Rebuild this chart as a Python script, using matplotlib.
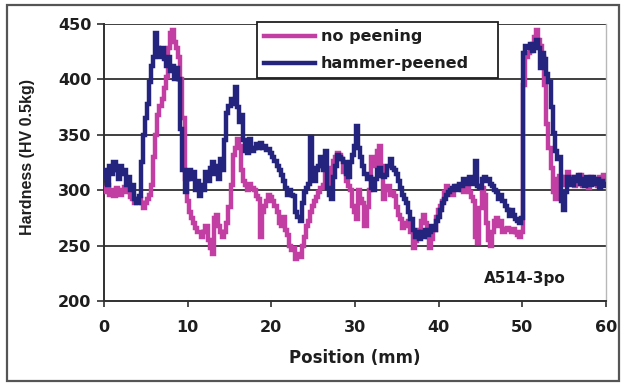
import matplotlib
matplotlib.use("Agg")
import matplotlib.pyplot as plt
from matplotlib.patches import Rectangle

# Measurement positions along the traverse (mm), sampled every 0.25 mm
position_mm = [i * 0.25 for i in range(241)]

# Hardness profile without peening (HV 0.5kg)
hv_no_peening = [
    302, 298, 305, 296,  300, 295, 302, 298,  296, 300, 303, 298,  300, 294, 292, 288,
    290, 292, 288, 284,  288, 292, 296, 305,  330, 350, 368, 376,  382, 392, 402, 428,
    442, 445, 434, 428,  420, 400, 365, 310,  290, 280, 275, 270,  266, 262, 262, 258,
    262, 268, 255, 248,  242, 275, 278, 268,  262, 258, 262, 270,  285, 305, 332, 338,
    346, 340, 318, 308,  305, 300, 306, 302,  300, 295, 292, 258,  280, 286, 290, 296,
    294, 290, 286, 280,  270, 268, 276, 264,  260, 250, 246, 248,  238, 242, 240, 250,
    258, 268, 272, 280,  286, 290, 294, 298,  302, 305, 318, 305,  308, 320, 326, 330,
    334, 332, 328, 316,  308, 304, 300, 286,  280, 274, 300, 292,  288, 268, 285, 300,
    330, 326, 322, 335,  340, 322, 292, 300,  304, 296, 298, 295,  285, 278, 274, 266,
    268, 270, 272, 262,  248, 254, 258, 264,  272, 278, 270, 258,  248, 256, 264, 276,
    282, 286, 290, 298,  304, 300, 298, 296,  302, 304, 302, 300,  298, 302, 304, 298,
    294, 290, 258, 252,  284, 302, 296, 270,  255, 250, 262, 272,  275, 268, 272, 262,
    265, 266, 264, 262,  265, 262, 260, 258,  262, 395, 420, 424,  426, 432, 438, 445,
    436, 430, 420, 395,  360, 338, 320, 298,  292, 310, 313, 305,  312, 308, 316, 306,
    312, 304, 310, 306,  314, 304, 310, 308,  302, 312, 306, 310,  304, 312, 306, 314,
    308,
]

# Hardness profile after hammer peening (HV 0.5kg)
hv_hammer_peened = [
    312, 318, 305, 322,  315, 325, 318, 310,  322, 315, 318, 305,  312, 300, 305, 292,
    288, 295, 325, 350,  365, 378, 398, 412,  420, 442, 428, 420,  428, 418, 412, 420,
    408, 412, 400, 410,  400, 355, 318, 298,  310, 318, 310, 316,  300, 308, 295, 305,
    300, 316, 308, 320,  325, 315, 322, 310,  328, 318, 345, 370,  376, 382, 378, 393,
    375, 362, 368, 345,  335, 334, 346, 335,  338, 342, 338, 343,  338, 340, 336, 337,
    334, 330, 326, 322,  318, 314, 308, 302,  296, 300, 296, 295,  280, 276, 272, 288,
    298, 302, 306, 348,  320, 308, 318, 322,  330, 318, 335, 302,  296, 292, 312, 322,
    332, 330, 328, 325,  315, 312, 325, 332,  340, 358, 338, 330,  322, 315, 310, 312,
    302, 300, 310, 318,  320, 313, 312, 314,  322, 328, 320, 318,  315, 308, 302, 296,
    292, 288, 280, 274,  264, 258, 262, 256,  262, 258, 264, 260,  262, 268, 264, 272,
    276, 282, 288, 292,  296, 298, 300, 302,  304, 300, 306, 304,  310, 306, 308, 312,
    306, 308, 326, 304,  302, 310, 312, 308,  310, 306, 304, 300,  298, 292, 296, 290,
    286, 282, 277, 282,  278, 274, 272, 270,  275, 424, 430, 428,  432, 426, 430, 436,
    428, 410, 424, 418,  405, 398, 375, 352,  335, 328, 330, 290,  282, 298, 312, 310,
    305, 312, 308, 314,  306, 310, 304, 312,  308, 305, 312, 306,  310, 302, 308, 304,
    306,
]

x_ticks = [0, 10, 20, 30, 40, 50, 60]
y_ticks = [200, 250, 300, 350, 400, 450]

PINK = "#c23ea2"
NAVY = "#24247e"
TEXT = "#1e1e1e"
FONT = "DejaVu Sans"

fig = plt.figure(figsize=(6.23, 3.83), dpi=100, facecolor="white")
ax = fig.add_axes([104 / 623, 1 - 301 / 383, 502 / 623, 277 / 383])

# Outer frame around the whole figure
fig.patches.append(Rectangle((7 / 623, 2 / 383), 612 / 623, 376 / 383,
                             transform=fig.transFigure, fill=False,
                             edgecolor="#555555", linewidth=1.6, zorder=0))

ax.plot(position_mm, hv_no_peening, color=PINK, linewidth=3.2, drawstyle="steps-mid",
        solid_joinstyle="miter", label="no peening", zorder=3)
ax.plot(position_mm, hv_hammer_peened, color=NAVY, linewidth=3.2, drawstyle="steps-mid",
        solid_joinstyle="miter", label="hammer-peened", zorder=4)

ax.set_xlim(0, 60)
ax.set_ylim(200, 450)
ax.set_xticks(x_ticks)
ax.set_yticks(y_ticks)

for y in y_ticks[1:]:
    ax.axhline(y, color="#303030", linewidth=1.3, zorder=1)

ax.spines["top"].set_visible(False)
ax.spines["right"].set_color("#b8b8b8")
ax.spines["right"].set_linewidth(1.0)
for side in ("left", "bottom"):
    ax.spines[side].set_color("#303030")
    ax.spines[side].set_linewidth(1.4)

ax.tick_params(axis="x", direction="out", length=4, width=1.2, color="#303030",
               pad=10, labelsize=11.5, labelcolor=TEXT)
ax.tick_params(axis="y", direction="out", length=5, width=1.2, color="#303030",
               pad=4, labelsize=11.5, labelcolor=TEXT)
for lab in ax.get_xticklabels() + ax.get_yticklabels():
    lab.set_fontweight("bold")
    lab.set_family(FONT)

ax.set_xlabel("Position (mm)", fontsize=12, fontweight="bold", color=TEXT, family=FONT)
ax.set_ylabel("Hardness (HV 0.5kg)", fontsize=11.5, fontweight="bold", color=TEXT,
              family="Liberation Sans")
ax.xaxis.set_label_coords(0.5, -0.175)
ax.yaxis.set_label_coords(-0.137, 0.52)

ax.text(0.838, 0.083, "A514-3po", transform=ax.transAxes, ha="center", va="center",
        fontsize=11, fontweight="bold", color=TEXT, family=FONT)

leg = ax.legend(loc="upper left", bbox_to_anchor=(153 / 502, 0.5, 241 / 502, 0.5072),
                mode="expand", borderaxespad=0, frameon=True, fancybox=False,
                framealpha=1, edgecolor="#202020", handlelength=3.2,
                handletextpad=0.35, borderpad=0.45, labelspacing=0.75,
                prop={"family": FONT, "weight": "bold", "size": 11.5})
leg.get_frame().set_linewidth(1.3)
leg._legend_box.align = "left"
for t in leg.get_texts():
    t.set_color(TEXT)
leg.set_zorder(6)

fig.savefig("out.png", dpi=100, facecolor="white")
